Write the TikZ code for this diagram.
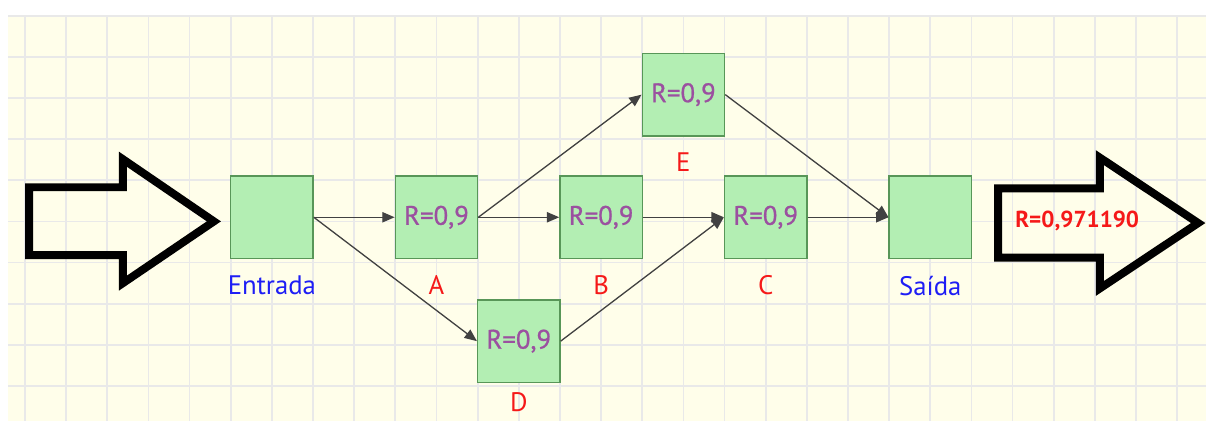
\documentclass[tikz,border=0pt]{standalone}
\usepackage{fontspec}
\setmainfont{PT Sans}
\newfontfamily\meiogrosso[FakeBold=0.8]{PT Sans}
\usetikzlibrary{arrows.meta}
\definecolor{papel}{RGB}{255,254,234}
\definecolor{grade}{RGB}{233,233,233}
\definecolor{verde}{RGB}{179,238,179}
\definecolor{borda}{RGB}{88,150,88}
\definecolor{roxo}{RGB}{155,80,160}
\definecolor{azul}{RGB}{30,30,245}
\definecolor{vermelho}{RGB}{245,25,25}
\definecolor{seta}{RGB}{65,65,65}

\begin{document}
\begin{tikzpicture}[>={Triangle[length=3mm,width=2.5mm]},
  bloco/.style={draw=borda,fill=verde,line width=1pt,minimum size=2cm,inner sep=0pt,
    text=roxo,font=\meiogrosso\fontsize{18.5}{20}\selectfont},
  rot/.style={anchor=base,inner sep=0pt,font=\fontsize{18.5}{20}\selectfont},
  lig/.style={->,draw=seta,fill=seta,line width=0.9pt}]
  \useasboundingbox (-0.608,1.38) rectangle (28.70,-8.84);
  % papel quadriculado
  \fill[papel] (-0.41,1.02) rectangle (28.70,-8.84);
  \foreach \x in {0,...,28} \draw[grade,line width=1.2pt] (\x,1.02) -- (\x,-8.84);
  \foreach \y in {1,0,...,-8} \draw[grade,line width=1.2pt] (-0.41,\y) -- (28.70,\y);

  % blocos
  \node[bloco] (entrada) at (6,-3.9) {};
  \node[bloco] (A) at (10,-3.9) {R=0,9};
  \node[bloco] (B) at (14,-3.9) {R=0,9};
  \node[bloco] (C) at (18,-3.9) {R=0,9};
  \node[bloco] (E) at (16,-0.92) {R=0,9};
  \node[bloco] (D) at (12,-6.91) {R=0,9};
  \node[bloco] (saida) at (22,-3.9) {};

  \node[rot,text=azul] (labentrada) at (6,-5.78) {Entrada};
  \node[rot,text=vermelho] (labA) at (10,-5.78) {A};
  \node[rot,text=vermelho] (labB) at (14,-5.78) {B};
  \node[rot,text=vermelho] (labC) at (18,-5.78) {C};
  \node[rot,text=vermelho] (labE) at (16,-2.78) {E};
  \node[rot,text=vermelho] (labD) at (12,-8.62) {D};
  \node[rot,text=azul] (labsaida) at (22,-5.8) {Saída};

  % ligacoes
  \draw[lig] (entrada.east) -- (A.west);
  \draw[lig] (entrada.east) -- (D.west);
  \draw[lig] (A.east) -- (B.west);
  \draw[lig] (A.east) -- (E.west);
  \draw[lig] (B.east) -- (C.west);
  \draw[lig] (D.east) -- (C.west);
  \draw[lig] (C.east) -- (saida.west);
  \draw[lig] (E.east) -- (saida.west);

  % setas grandes
  \draw[line width=5.5pt] (0.10,-3.17) -- (2.38,-3.17) -- (2.38,-2.49) -- (4.59,-4.0)
    -- (2.38,-5.50) -- (2.38,-4.82) -- (0.10,-4.82) -- cycle;
  \draw[line width=5.5pt] (23.65,-3.20) -- (26.12,-3.20) -- (26.12,-2.45) -- (28.51,-4.04)
    -- (26.12,-5.63) -- (26.12,-4.88) -- (23.65,-4.88) -- cycle;
  \node[text=vermelho,font=\bfseries\fontsize{16}{18}\selectfont] (res) at (25.57,-4.0) {R=0,971190};
\end{tikzpicture}
\end{document}
